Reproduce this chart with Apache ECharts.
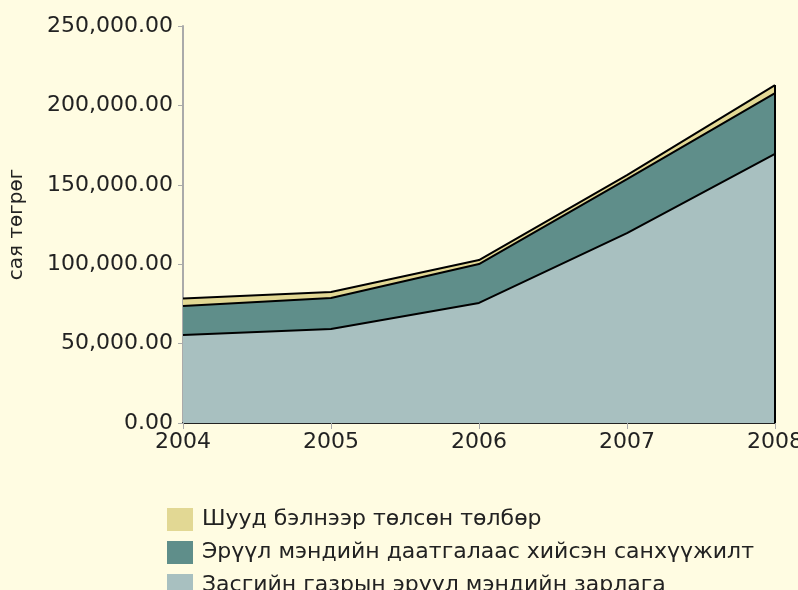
<!DOCTYPE html>
<html>
<head>
<meta charset="utf-8">
<script src="https://cdn.jsdelivr.net/npm/echarts@6/dist/echarts.min.js"></script>
<style>
  html, body { margin: 0; padding: 0; background: #fffce2; }
  #chart { width: 798px; height: 590px; }
</style>
</head>
<body>
<div id="chart"></div>
<script>
const years = ["2004", "2005", "2006", "2007", "2008"];
const govSpending = [55400, 59200, 75600, 119600, 169400];
const insuranceFunding = [18300, 19500, 24500, 34000, 38400];
const outOfPocket = [4700, 3800, 2500, 2500, 5000];
const seriesNames = [
    "Засгийн газрын эрүүл мэндийн зарлага",
    "Эрүүл мэндийн даатгалаас хийсэн санхүүжилт",
    "Шууд бэлнээр төлсөн төлбөр"
];
const yAxisName = "сая төгрөг";

const font = "DejaVu Sans";
const lastIdx = years.length - 1;
const total = govSpending[lastIdx] + insuranceFunding[lastIdx] + outOfPocket[lastIdx];

const chart = echarts.init(document.getElementById("chart"));

function areaSeries(name, data, color) {
    return {
        name: name,
        type: "line",
        stack: "total",
        data: data,
        symbol: "none",
        lineStyle: { color: "#000", width: 2 },
        areaStyle: { color: color, opacity: 1 },
        itemStyle: { color: color }
    };
}

const s1 = areaSeries(seriesNames[0], govSpending, "#a8c0c0");
const s2 = areaSeries(seriesNames[1], insuranceFunding, "#5f8e8a");
const s3 = areaSeries(seriesNames[2], outOfPocket, "#e2d894");
// right edge of the stacked area
s3.markLine = {
    symbol: "none",
    silent: true,
    label: { show: false },
    lineStyle: { color: "#000", width: 2, type: "solid" },
    data: [[{ coord: [years[lastIdx], 0] }, { coord: [years[lastIdx], total] }]]
};

chart.setOption({
    backgroundColor: "#fffce2",
    animation: false,
    grid: {
        left: 183,
        right: 23,
        top: 26,
        bottom: 167,
        outerBoundsMode: "none"
    },
    legend: {
        orient: "vertical",
        left: 162,
        top: 503,
        height: 200,
        itemWidth: 26,
        itemHeight: 23,
        itemGap: 10,
        icon: "rect",
        data: [seriesNames[2], seriesNames[1], seriesNames[0]],
        textStyle: { fontFamily: font, fontSize: 22, color: "#222", padding: [0, 0, 0, 4] }
    },
    xAxis: {
        type: "category",
        boundaryGap: false,
        data: years,
        axisLine: { lineStyle: { color: "#222", width: 2 } },
        axisTick: { show: true, length: 6, lineStyle: { color: "#aaa" } },
        axisLabel: { fontFamily: font, fontSize: 22, color: "#222", margin: 8 }
    },
    yAxis: {
        type: "value",
        min: 0,
        max: 250000,
        interval: 50000,
        name: yAxisName,
        nameLocation: "middle",
        nameRotate: 90,
        nameGap: 156,
        nameTextStyle: { fontFamily: font, fontSize: 20, color: "#222" },
        axisLine: { show: true, lineStyle: { color: "#aaa", width: 2 } },
        axisTick: { show: true, length: 5, lineStyle: { color: "#aaa" } },
        splitLine: { show: false },
        axisLabel: {
            fontFamily: font,
            fontSize: 22,
            color: "#222",
            margin: 10,
            formatter: v => v.toLocaleString("en-US", { minimumFractionDigits: 2, maximumFractionDigits: 2 })
        }
    },
    series: [s1, s2, s3]
});
</script>
</body>
</html>
